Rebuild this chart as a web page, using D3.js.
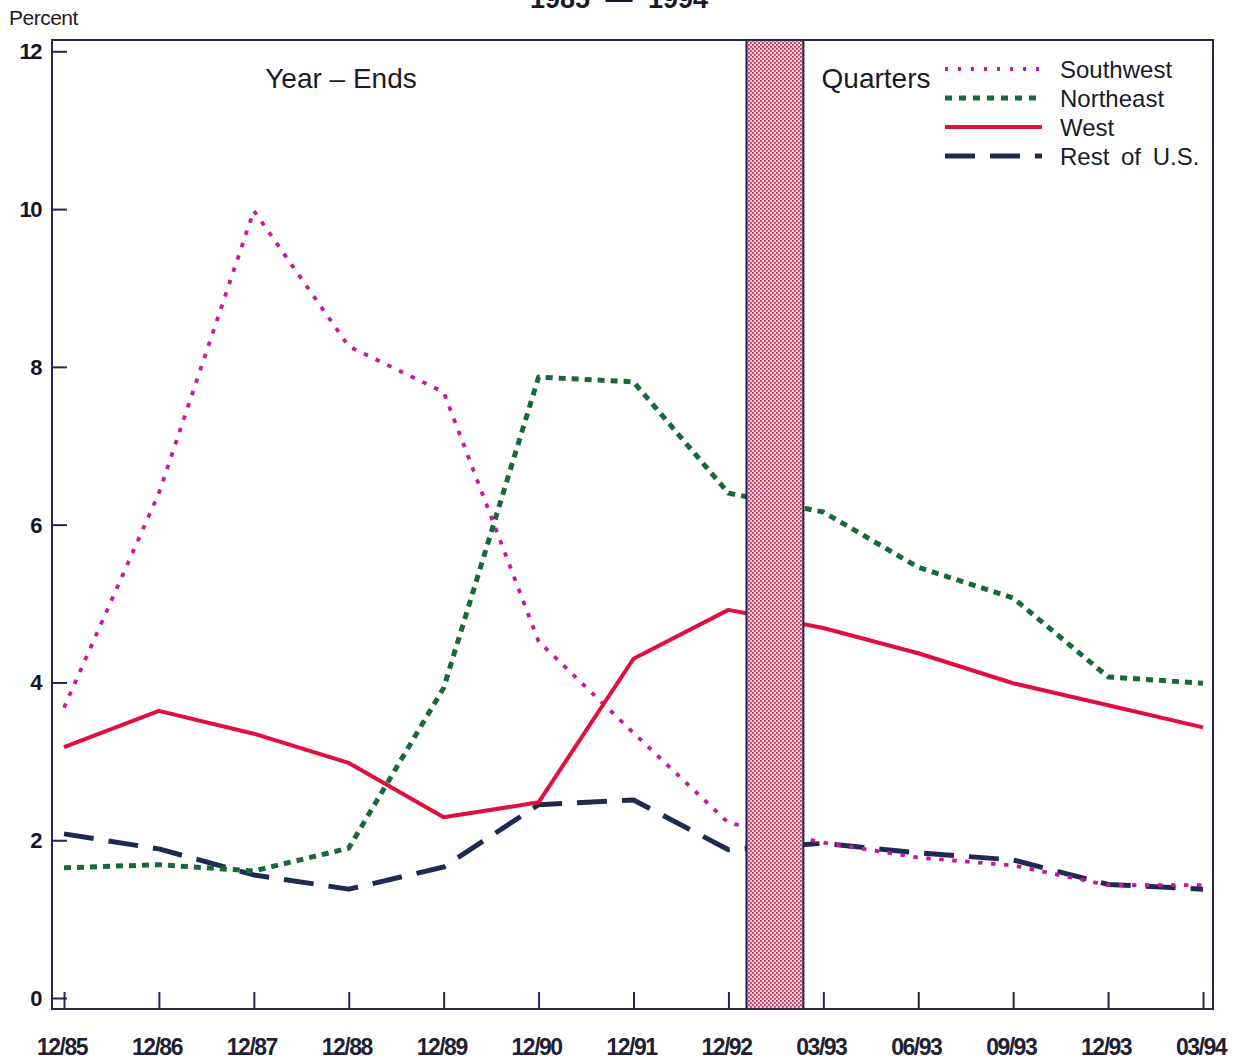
<!DOCTYPE html>
<html>
<head>
<meta charset="utf-8">
<script src="https://cdn.jsdelivr.net/npm/d3@7"></script>
<style>
  html, body { margin: 0; padding: 0; background: #ffffff; }
  svg { display: block; }
  text { font-family: "Liberation Sans", Arial, sans-serif; fill: #1a1a2a; }
</style>
</head>
<body>
<svg id="chart" width="1252" height="1063"></svg>
<script>
// ---- data ----
const periods = ["12/85","12/86","12/87","12/88","12/89","12/90","12/91","12/92","03/93","06/93","09/93","12/93","03/94"];
const southwest = [3.68, 6.4, 9.98, 8.26, 7.68, 4.52, 3.36, 2.22, 1.97, 1.78, 1.68, 1.43, 1.43];
const northeast = [1.65, 1.69, 1.61, 1.90, 3.93, 7.87, 7.81, 6.40, 6.16, 5.46, 5.07, 4.07, 3.99];
const west      = [3.18, 3.64, 3.35, 2.98, 2.29, 2.48, 4.30, 4.92, 4.69, 4.37, 3.99, 3.71, 3.43];
const restUS    = [2.08, 1.89, 1.56, 1.38, 1.66, 2.45, 2.51, 1.88, 1.96, 1.84, 1.75, 1.44, 1.38];
const yTicks = [0, 2, 4, 6, 8, 10, 12];
const seriesNames = ["Southwest", "Northeast", "West", "Rest of U.S."];

const svg = d3.select("#chart");

// ---- scales ----
const frame = {left: 52, right: 1213, top: 40, bottom: 1009};
const x = d3.scalePoint().domain(periods).range([64, 1203]);
const y = d3.scaleLinear().domain([0, 12]).range([998, 51.3]);
const step = x.step();

// ---- pattern for shaded band ----
const defs = svg.append("defs");
const pat = defs.append("pattern").attr("id", "check").attr("width", 4).attr("height", 4)
  .attr("patternUnits", "userSpaceOnUse");
pat.append("rect").attr("width", 4).attr("height", 4).attr("fill", "#ecd6c8");
pat.append("rect").attr("x", 0).attr("y", 0).attr("width", 1.8).attr("height", 1.8).attr("fill", "#b8306e");
pat.append("rect").attr("x", 2).attr("y", 2).attr("width", 1.8).attr("height", 1.8).attr("fill", "#b8306e");

// ---- series lines ----
const styles = [
  {name: "Southwest", data: southwest, color: "#c8189a", width: 3.8, dash: "4.5,8.5", legendDash: "3,10"},
  {name: "Northeast", data: northeast, color: "#17693a", width: 5, dash: "7,6", legendDash: "7,7"},
  {name: "West", data: west, color: "#e0103c", width: 4, dash: null, legendDash: null},
  {name: "Rest of U.S.", data: restUS, color: "#1f2a52", width: 5, dash: "30,15", legendDash: "30,15"}
];

const line = d3.line().x((d, i) => x(periods[i])).y(d => y(d));

const drawOrder = [3, 0, 1, 2];
drawOrder.forEach(k => {
  const s = styles[k];
  svg.append("path")
    .datum(s.data)
    .attr("d", line)
    .attr("fill", "none")
    .attr("stroke", s.color)
    .attr("stroke-width", s.width)
    .attr("stroke-dasharray", s.dash)
    .attr("stroke-linejoin", "round");
});

// ---- shaded band between year-ends and quarters ----
const bandX0 = x("12/92") + step * 0.19;
const bandX1 = x("03/93") - step * 0.21;
svg.append("rect")
  .attr("x", bandX0).attr("y", frame.top)
  .attr("width", bandX1 - bandX0).attr("height", frame.bottom - frame.top)
  .attr("fill", "url(#check)")
  .attr("stroke", "#2a1f4a").attr("stroke-width", 2);

// ---- frame ----
svg.append("rect")
  .attr("x", frame.left).attr("y", frame.top)
  .attr("width", frame.right - frame.left).attr("height", frame.bottom - frame.top)
  .attr("fill", "none").attr("stroke", "#2a2450").attr("stroke-width", 2);

// ---- y axis (inward ticks) ----
const yAxis = d3.axisRight(y).tickValues(yTicks).tickSize(15).tickFormat("");
const gy = svg.append("g").attr("transform", `translate(${frame.left},0)`).call(yAxis);
gy.select(".domain").remove();
gy.selectAll(".tick line").attr("stroke", "#2a2450").attr("stroke-width", 2);
svg.append("g").selectAll("text").data(yTicks).join("text")
  .attr("x", 41).attr("y", d => y(d) + 8)
  .attr("text-anchor", "end")
  .style("font-size", "22px").style("letter-spacing", "-1.5px").style("font-weight", "bold")
  .style("fill", "#15152a")
  .text(d => d);

// ---- x axis (upward ticks) ----
const xAxis = d3.axisTop(x).tickSize(17).tickFormat("");
const gx = svg.append("g").attr("transform", `translate(0,${frame.bottom})`).call(xAxis);
gx.select(".domain").remove();
gx.selectAll(".tick line").attr("stroke", "#2a2450").attr("stroke-width", 2);
svg.append("g").selectAll("text").data(periods).join("text")
  .attr("x", d => x(d) - 2).attr("y", 1055)
  .attr("text-anchor", "middle")
  .style("font-size", "23px").style("letter-spacing", "-1.5px").style("font-weight", "bold")
  .style("fill", "#222033")
  .text(d => d);

// ---- titles / annotations ----
svg.append("text").attr("x", 619).attr("y", 8).attr("text-anchor", "middle")
  .style("font-size", "27px").style("font-weight", "bold").style("word-spacing", "8px")
  .text("1985 \u2014 1994");
svg.append("text").attr("x", 9).attr("y", 25)
  .style("font-size", "21px").style("letter-spacing", "-0.5px")
  .text("Percent");
svg.append("text").attr("x", 341).attr("y", 88).attr("text-anchor", "middle")
  .style("font-size", "28px")
  .text("Year \u2013 Ends");
svg.append("text").attr("x", 876).attr("y", 88).attr("text-anchor", "middle")
  .style("font-size", "28px")
  .text("Quarters");

// ---- legend ----
const legendY = [69, 98, 127, 156];
const lg = svg.append("g");
styles.forEach((s, i) => {
  lg.append("line")
    .attr("x1", 945).attr("x2", 1042)
    .attr("y1", legendY[i]).attr("y2", legendY[i])
    .attr("stroke", s.color).attr("stroke-width", s.width)
    .attr("stroke-dasharray", s.legendDash);
  lg.append("text")
    .attr("x", 1060).attr("y", legendY[i] + 9)
    .style("font-size", "24px").style("word-spacing", "5px")
    .text(seriesNames[i]);
});
</script>
</body>
</html>
